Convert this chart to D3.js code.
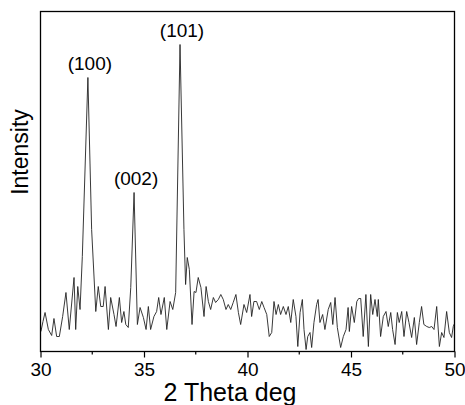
<!DOCTYPE html>
<html>
<head>
<meta charset="utf-8">
<script src="https://cdn.jsdelivr.net/npm/d3@7"></script>
<style>
    body { margin: 0; background: #fff; }
    svg { display: block; font-family: Arial, "Liberation Sans", sans-serif; }
</style>
</head>
<body>
<div class="plot-container"></div>
<script>
// XRD pattern
const twoTheta = [30.02, 30.12, 30.22, 30.38, 30.54, 30.65, 30.78, 30.91, 31.07, 31.23,
    31.39, 31.62, 31.70, 31.80, 31.91, 32.02, 32.29, 32.47, 32.67, 32.79,
    32.91, 33.03, 33.12, 33.28, 33.39, 33.55, 33.65, 33.81, 33.92, 34.03,
    34.12, 34.24, 34.36, 34.52, 34.68, 34.81, 34.97, 35.10, 35.21, 35.32,
    35.48, 35.61, 35.71, 35.82, 35.98, 36.10, 36.26, 36.39, 36.53, 36.74,
    36.93, 37.01, 37.09, 37.19, 37.32, 37.42, 37.51, 37.62, 37.75, 37.90,
    38.00, 38.11, 38.22, 38.35, 38.46, 38.59, 38.71, 38.83, 38.96, 39.07,
    39.19, 39.31, 39.44, 39.56, 39.67, 39.83, 39.96, 40.12, 40.20, 40.31,
    40.44, 40.57, 40.69, 40.80, 40.93, 41.05, 41.17, 41.28, 41.38, 41.49,
    41.60, 41.73, 41.86, 41.97, 42.09, 42.21, 42.34, 42.43, 42.54, 42.65,
    42.73, 42.83, 42.91, 43.02, 43.10, 43.21, 43.34, 43.41, 43.50, 43.63,
    43.74, 43.90, 44.02, 44.12, 44.23, 44.34, 44.50, 44.63, 44.76, 44.86,
    44.92, 45.03, 45.16, 45.28, 45.37, 45.47, 45.59, 45.72, 45.84, 45.95,
    46.05, 46.16, 46.27, 46.32, 46.43, 46.56, 46.69, 46.80, 46.92, 47.01,
    47.13, 47.24, 47.33, 47.45, 47.56, 47.69, 47.80, 47.93, 48.06, 48.17,
    48.30, 48.41, 48.52, 48.66, 48.78, 48.90, 49.01, 49.14, 49.27, 49.38,
    49.49, 49.62, 49.75, 49.86, 49.94, 50.00];
const intensity = [100, 150, 195, 110, 80, 165, 75, 75, 175, 295,
    110, 370, 110, 325, 210, 475, 1370, 610, 200, 325,
    225, 225, 325, 110, 270, 185, 125, 270, 145, 200,
    135, 120, 320, 795, 135, 220, 170, 110, 225, 110,
    175, 200, 270, 185, 270, 110, 250, 210, 295, 1535,
    610, 335, 470, 410, 135, 300, 295, 370, 320, 175,
    325, 250, 210, 270, 245, 260, 285, 260, 210, 235,
    210, 245, 285, 195, 135, 235, 195, 285, 175, 250,
    250, 210, 250, 220, 185, 75, 95, 250, 185, 235,
    185, 225, 185, 225, 145, 260, 175, 25, 195, 260,
    110, 10, 75, 95, 20, 145, 235, 260, 145, 185,
    110, 210, 245, 135, 270, 120, 20, 75, 110, 220,
    100, 225, 145, 250, 265, 265, 75, 285, 25, 285,
    185, 260, 175, 260, 75, 175, 200, 125, 195, 110,
    35, 195, 145, 200, 75, 200, 145, 70, 170, 35,
    145, 225, 135, 125, 120, 125, 110, 225, 25, 95,
    70, 200, 95, 70, 125, 140];

// peak annotations (Miller indices)
const peakLabels = ["(100)", "(002)", "(101)"];
const peakTheta = [32.29, 34.52, 36.74];
const peakIntensity = [1370, 795, 1535];

const xTicks = [30, 35, 40, 45, 50];
const xMinorTicks = [32.5, 37.5, 42.5, 47.5];

const width = 465, height = 405;
const plot = { left: 40.5, right: 454.5, top: 11.5, bottom: 351.5 };

const svg = d3.select(".plot-container").append("svg")
    .attr("width", width)
    .attr("height", height);

const xScale = d3.scaleLinear()
    .domain([30, 50])
    .range([plot.left, plot.right]);

const yScale = d3.scaleLinear()
    .domain([0, 1700])
    .range([plot.bottom, plot.top]);

// the trace
const line = d3.line()
    .x((d, i) => xScale(twoTheta[i]))
    .y(d => yScale(d));

svg.append("path")
    .attr("d", line(intensity))
    .style("fill", "none")
    .style("stroke", "#222")
    .style("stroke-width", 0.9)
    .style("stroke-linejoin", "miter");

// frame
svg.append("rect")
    .attr("x", plot.left)
    .attr("y", plot.top)
    .attr("width", plot.right - plot.left)
    .attr("height", plot.bottom - plot.top)
    .style("fill", "none")
    .style("stroke", "#000")
    .style("stroke-width", 1.3);

// bottom axis, ticks pointing out
const xAxis = d3.axisBottom(xScale)
    .tickValues(xTicks)
    .tickSize(6)
    .tickPadding(5)
    .tickFormat(d3.format("d"));

const axisG = svg.append("g")
    .attr("transform", `translate(0,${plot.bottom})`)
    .call(xAxis);
axisG.select(".domain").remove();
axisG.selectAll("line").style("stroke", "#000").style("stroke-width", 1.2);
axisG.selectAll("text")
    .style("font-size", "19px")
    .style("font-family", "Arial, 'Liberation Sans', sans-serif")
    .style("fill", "#000");

svg.append("g")
    .selectAll("line")
    .data(xMinorTicks)
    .enter().append("line")
    .attr("x1", d => xScale(d))
    .attr("x2", d => xScale(d))
    .attr("y1", plot.bottom)
    .attr("y2", plot.bottom + 3)
    .style("stroke", "#000")
    .style("stroke-width", 1.2);

// peak labels
svg.append("g")
    .selectAll("text")
    .data(peakLabels)
    .enter().append("text")
    .attr("x", (d, i) => xScale(peakTheta[i]) + 2)
    .attr("y", (d, i) => yScale(peakIntensity[i]) - 8)
    .attr("text-anchor", "middle")
    .style("font-size", "19px")
    .text(d => d);

// axis titles
svg.append("text")
    .attr("x", 230)
    .attr("y", 401)
    .attr("text-anchor", "middle")
    .style("font-size", "25px")
    .text("2 Theta deg");

svg.append("text")
    .attr("transform", "translate(28,152) rotate(-90)")
    .attr("text-anchor", "middle")
    .style("font-size", "23px")
    .text("Intensity");
</script>
</body>
</html>
